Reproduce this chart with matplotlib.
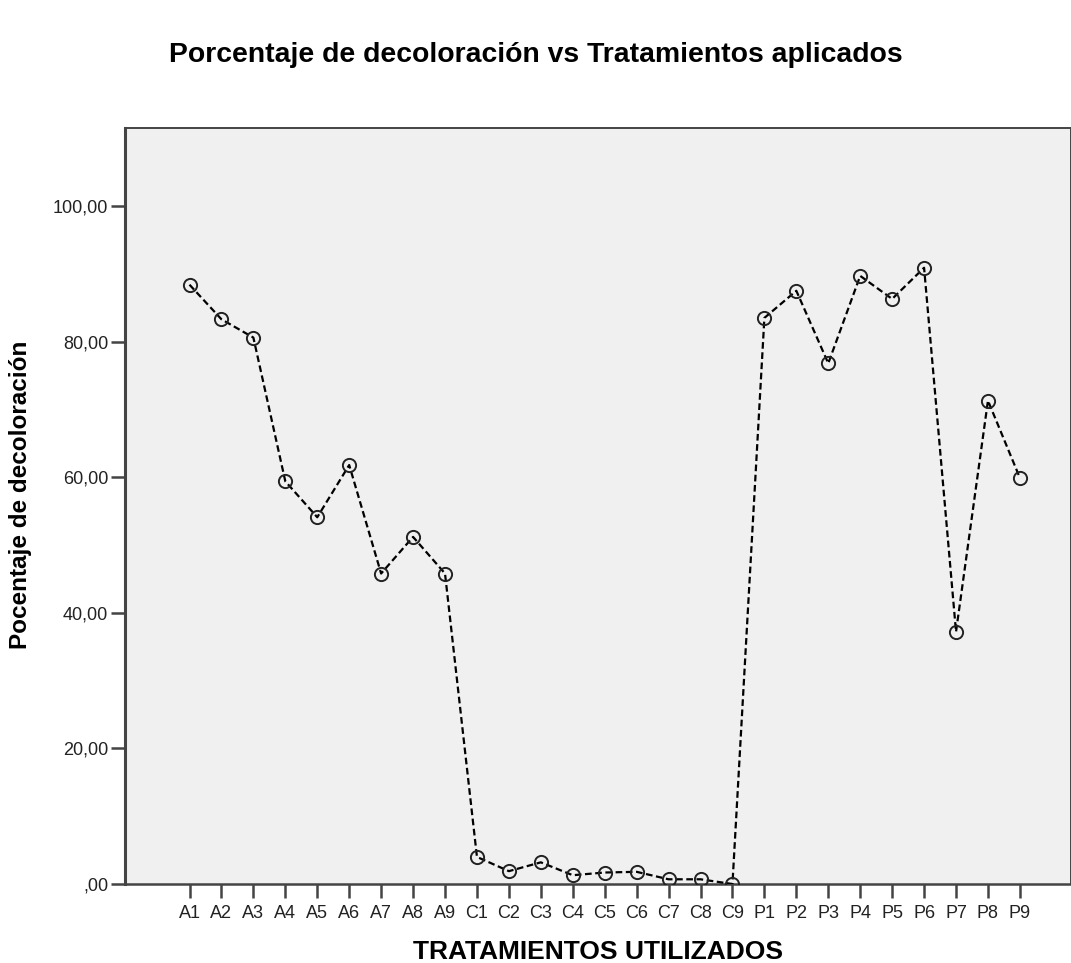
import matplotlib
matplotlib.use("Agg")
import matplotlib.pyplot as plt

# treatments and decolouration percentages
treatments = ["A1", "A2", "A3", "A4", "A5", "A6", "A7", "A8", "A9",
              "C1", "C2", "C3", "C4", "C5", "C6", "C7", "C8", "C9",
              "P1", "P2", "P3", "P4", "P5", "P6", "P7", "P8", "P9"]
decoloracion = [88.4, 83.3, 80.6, 59.4, 54.1, 61.8, 45.8, 51.2, 45.8,
                4.0, 1.9, 3.2, 1.3, 1.7, 1.8, 0.7, 0.7, 0.0,
                83.5, 87.5, 76.8, 89.7, 86.3, 90.9, 37.2, 71.3, 59.9]
y_ticks = [0, 20, 40, 60, 80, 100]
y_tick_labels = [",00", "20,00", "40,00", "60,00", "80,00", "100,00"]

plt.rcParams["font.family"] = ["Liberation Sans", "DejaVu Sans"]

fig = plt.figure(figsize=(10.71, 9.63), dpi=100)
ax = fig.add_axes([0.1167, 0.082, 0.8833, 0.785])
ax.set_facecolor("#f0f0f0")

x = list(range(len(treatments)))
ax.plot(x, decoloracion, color="black", linestyle=(0, (3, 1.6)), linewidth=1.6,
        marker="o", markersize=9.5, markerfacecolor="none",
        markeredgecolor="#222222", markeredgewidth=1.4, zorder=3)

ax.set_xlim(-2.02, 27.6)
ax.set_ylim(0, 111.5)
ax.set_xticks(x)
ax.set_xticklabels(treatments, fontsize=13, color="#222222")
ax.set_yticks(y_ticks)
ax.set_yticklabels(y_tick_labels, fontsize=13, color="#222222")
ax.tick_params(axis="both", direction="out", length=10, width=1.8, color="#444444")
ax.tick_params(axis="x", pad=5)
ax.tick_params(axis="y", pad=2)

for side, lw in [("left", 2.2), ("bottom", 1.8), ("top", 1.4), ("right", 1.4)]:
    ax.spines[side].set_linewidth(lw)
    ax.spines[side].set_color("#444444")

ax.set_xlabel("TRATAMIENTOS UTILIZADOS", fontsize=19, fontweight="bold", labelpad=13)
ax.set_ylabel("Pocentaje de decoloración", fontsize=17.5, fontweight="bold", labelpad=8)
ax.yaxis.set_label_coords(-0.098, 0.515)

fig.text(0.5, 0.943, "Porcentaje de decoloración vs Tratamientos aplicados",
         ha="center", va="center", fontsize=20.4, fontweight="bold")

fig.savefig("out.png", dpi=100)
